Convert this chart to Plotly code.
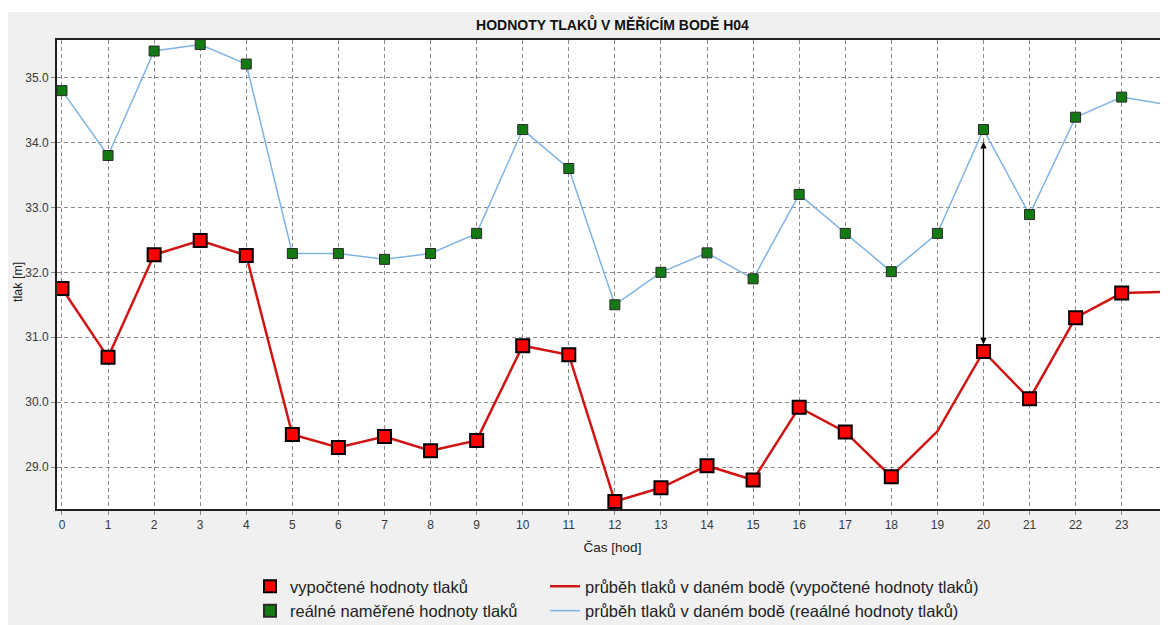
import plotly.graph_objects as go

hours = list(range(0, 25))
calc_pressure = [31.75, 30.69, 32.27, 32.49, 32.26, 29.50, 29.30, 29.47, 29.25, 29.41,
                 30.87, 30.73, 28.47, 28.68, 29.02, 28.80, 29.92, 29.54, 28.85, 29.55,
                 30.78, 30.05, 31.30, 31.68, 31.70]
real_pressure = [34.80, 33.80, 35.41, 35.51, 35.21, 32.29, 32.29, 32.20, 32.29, 32.60,
                 34.20, 33.60, 31.50, 32.00, 32.30, 31.90, 33.20, 32.60, 32.01, 32.60,
                 34.20, 32.89, 34.39, 34.70, 34.58]
calc_marker_hours = [h for h in range(0, 24) if h != 19]
real_marker_hours = list(range(0, 24))
arrow_hour = 20

title = "HODNOTY TLAKŮ V MĚŘÍCÍM BODĚ H04"
x_title = "Čas [hod]"
y_title = "tlak [m]"
name_calc_pts = "vypočtené hodnoty tlaků"
name_real_pts = "reálné naměřené hodnoty tlaků"
name_calc_line = "průběh tlaků v daném bodě (vypočtené hodnoty tlaků)"
name_real_line = "průběh tlaků v daném bodě (reaálné hodnoty tlaků)"

W, H = 1160, 617
ML, MT, MB = 49, 32, 116
PW = W - ML
PH = H - MT - MB

fig = go.Figure()

fig.add_trace(go.Scatter(x=hours, y=real_pressure, mode="lines",
                         line=dict(color="#7fb3e6", width=1.5),
                         name=name_real_line, legend="legend2", legendrank=2))
fig.add_trace(go.Scatter(x=hours, y=calc_pressure, mode="lines",
                         line=dict(color="#d01414", width=2.5),
                         name=name_calc_line, legend="legend2", legendrank=1))
fig.add_trace(go.Scatter(x=real_marker_hours, y=[real_pressure[h] for h in real_marker_hours],
                         mode="markers",
                         marker=dict(symbol="square", size=10, color="#137a13",
                                     line=dict(color="#2a2a2a", width=1)),
                         name=name_real_pts, legend="legend", legendrank=2))
fig.add_trace(go.Scatter(x=calc_marker_hours, y=[calc_pressure[h] for h in calc_marker_hours],
                         mode="markers",
                         marker=dict(symbol="square", size=13, color="#ff0000",
                                     line=dict(color="#000000", width=2)),
                         name=name_calc_pts, legend="legend", legendrank=1))

fig.add_annotation(x=arrow_hour, y=calc_pressure[arrow_hour] + 0.11,
                   ax=arrow_hour, ay=real_pressure[arrow_hour] - 0.17,
                   xref="x", yref="y", axref="x", ayref="y",
                   showarrow=True, arrowhead=2, startarrowhead=2, arrowside="end+start",
                   arrowsize=1, startarrowsize=1, arrowwidth=1.3, arrowcolor="#000000", text="")

# y-axis title as a rotated text label
fig.add_annotation(x=(10 - ML) / PW, y=(H - MB - 274) / PH, xref="paper", yref="paper",
                   text=y_title, textangle=-90, showarrow=False,
                   xanchor="center", yanchor="middle",
                   font=dict(family="Liberation Sans, Arial", size=12.5, color="#222222"))

grid_common = dict(showgrid=True, gridcolor="#8a8a8a", gridwidth=1, griddash="4px,3px",
                   zeroline=False, showline=True, linecolor="#222222", linewidth=2,
                   ticks="outside", ticklen=4, tickcolor="#8a8a8a",
                   tickfont=dict(family="Liberation Sans, Arial", size=12, color="#3a3a3a"))

fig.update_xaxes(range=[-0.108, 24.005], dtick=1, tick0=0, mirror=True,
                 title=dict(text=x_title, standoff=11,
                            font=dict(family="Liberation Sans, Arial", size=13.5, color="#222222")),
                 **grid_common)
fig.update_yaxes(range=[28.353, 35.58], dtick=1, tick0=29, tickformat=".1f", mirror=False,
                 ticklabeloverflow="allow",
                 **grid_common)

legend_font = dict(family="Liberation Sans, Arial", size=16.5, color="#222222")
fig.update_layout(
    template="none",
    width=W, height=H,
    margin=dict(l=ML, r=0, t=MT, b=MB, autoexpand=False),
    paper_bgcolor="#f0f0f0", plot_bgcolor="#ffffff",
    title=dict(text="<b>" + title + "</b>", x=(ML + W) / 2 / W, xanchor="center",
               y=1 - 17 / H, yanchor="middle", xref="container", yref="container",
               font=dict(family="Liberation Sans, Arial", size=14, color="#111111")),
    showlegend=True,
    legend=dict(x=242 / W, y=1 - 561 / H, xref="container", yref="container",
                xanchor="left", yanchor="top", bgcolor="rgba(0,0,0,0)", font=legend_font,
                traceorder="normal", tracegroupgap=0, borderwidth=0, itemsizing="constant"),
    legend2=dict(x=537 / W, y=1 - 561 / H, xref="container", yref="container",
                 xanchor="left", yanchor="top", bgcolor="rgba(0,0,0,0)", font=legend_font,
                 traceorder="normal", tracegroupgap=0, borderwidth=0),
    shapes=[
        dict(type="rect", xref="paper", yref="paper", x0=-0.06, x1=1.01,
             y0=(H - MB - 4) / PH, y1=(H - MB + 2) / PH, fillcolor="#ffffff",
             line=dict(width=0), layer="below"),
    ],
)

fig.write_html("out.html")
